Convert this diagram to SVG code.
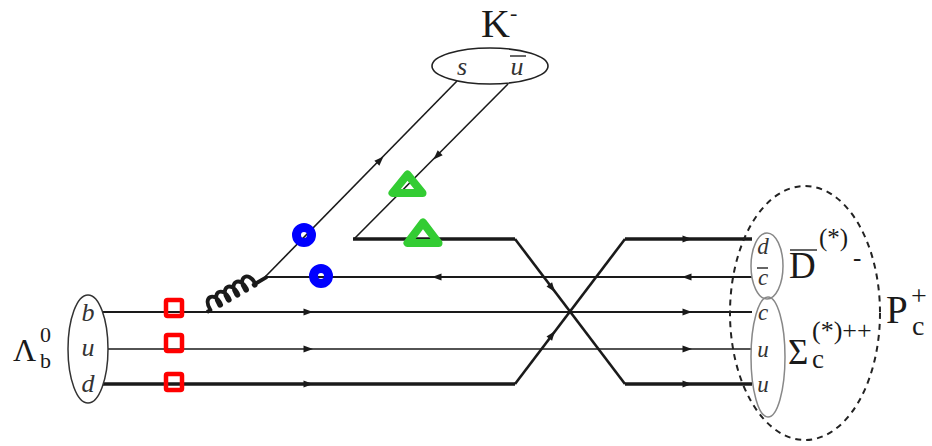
<svg xmlns="http://www.w3.org/2000/svg" xmlns:xlink="http://www.w3.org/1999/xlink" width="932" height="446" viewBox="0 0 932 446">
<style>
.q{font-family:"Liberation Serif",serif;font-style:italic;fill:#333;text-anchor:middle}
.lab{font-family:"Liberation Serif",serif;fill:#1a1a1a}
.ln{fill:none;stroke:#1a1a1a;stroke-linecap:butt}
.ah{fill:#1a1a1a}
.bar{stroke:#333;stroke-width:1.5}
.sq{fill:none;stroke:#ff0000;stroke-width:4.5}
.ci{fill:none;stroke:#0000ff;stroke-width:9}
.tr{fill:none;stroke:#33cc33;stroke-width:8;stroke-linejoin:round}
</style>
<defs>
<path id="ah" d="M-4.5,-3.5 L5,0 L-4.5,3.5 Z"/>
</defs>
<rect width="932" height="446" fill="#ffffff"/>

<g id="connectors">
  <path class="ln" d="M102,312 H752" stroke-width="2.2"/>
  <path class="ln" d="M108,349 H752" stroke-width="1.6"/>
  <path class="ln" d="M103,384 H515" stroke-width="3.5"/>
  <path class="ln" d="M515,384 L625,239" stroke-width="2.6" stroke-linecap="round"/>
  <path class="ln" d="M625,239 H752" stroke-width="3.5"/>
  <path class="ln" d="M353,239 H515" stroke-width="3.5"/>
  <path class="ln" d="M515,239 L625,384" stroke-width="2.6" stroke-linecap="round"/>
  <path class="ln" d="M625,384 H752" stroke-width="3.5"/>
  <path class="ln" d="M265,277 H752" stroke-width="2"/>
  <path class="ln" d="M265,277 L457,81" stroke-width="1.6"/>
  <path class="ln" d="M508,84 L354,239" stroke-width="1.6"/>
  <path id="gluon" class="ln" stroke-width="3.8" stroke-linecap="round" stroke-linejoin="round" transform="translate(207,312) rotate(-30.3)" d="M0,0 L4,0 c-1,-15 13,-15 12,0 c0,2 -2,2 -2,0 c-1,-15 13,-15 12,0 c0,2 -2,2 -2,0 c-1,-15 13,-15 12,0 c0,2 -2,2 -2,0 c-1,-15 13,-15 12,0 c0,2 -2,2 -2,0 c-1,-15 13,-15 12,0 c0,2 -2,2 -2,0 L69.5,0"/>
  <g id="arrowheads">
    <use xlink:href="#ah" class="ah" transform="translate(308,312)"/>
    <use xlink:href="#ah" class="ah" transform="translate(308,349)"/>
    <use xlink:href="#ah" class="ah" transform="translate(308,384)"/>
    <use xlink:href="#ah" class="ah" transform="translate(380,160) rotate(-45.6)"/>
    <use xlink:href="#ah" class="ah" transform="translate(437,156) rotate(135)"/>
    <use xlink:href="#ah" class="ah" transform="translate(437,277) rotate(180)"/>
    <use xlink:href="#ah" class="ah" transform="translate(687,277) rotate(180)"/>
    <use xlink:href="#ah" class="ah" transform="translate(687,239)"/>
    <use xlink:href="#ah" class="ah" transform="translate(687,312)"/>
    <use xlink:href="#ah" class="ah" transform="translate(687,349)"/>
    <use xlink:href="#ah" class="ah" transform="translate(687,384)"/>
    <use xlink:href="#ah" class="ah" transform="translate(552,288) rotate(52.8)"/>
    <use xlink:href="#ah" class="ah" transform="translate(552,335) rotate(-52.8)"/>
  </g>
</g>

<g id="lambda">
  <ellipse cx="88" cy="349" rx="20" ry="54" fill="none" stroke="#333" stroke-width="1.5"/>
  <text class="q" x="88" y="321" font-size="26">b</text>
  <text class="q" x="88" y="356" font-size="26">u</text>
  <text class="q" x="88" y="392" font-size="26">d</text>
  <text class="lab" x="13" y="361" font-size="32">Λ</text>
  <text class="lab" x="40" y="342" font-size="22">0</text>
  <text class="lab" x="40" y="368" font-size="22">b</text>
</g>

<g id="kaon">
  <ellipse cx="490" cy="66" rx="58" ry="18" fill="none" stroke="#222" stroke-width="1.6"/>
  <text class="q" x="462" y="75" font-size="26">s</text>
  <text class="q" x="517" y="75" font-size="26">u</text>
  <line class="bar" x1="510" y1="56" x2="526" y2="56"/>
  <text class="lab" x="481" y="37" font-size="40">K<tspan font-size="22" dy="-17">-</tspan></text>
</g>

<g id="dbar">
  <ellipse cx="767" cy="266" rx="16" ry="33" fill="none" stroke="#888" stroke-width="1.5"/>
  <text class="q" x="763" y="254" font-size="23">d</text>
  <text class="q" x="763" y="285" font-size="23">c</text>
  <line class="bar" x1="757" y1="268" x2="768" y2="268"/>
  <text class="lab" x="789" y="278" font-size="37">D</text>
  <line class="bar" x1="790" y1="250" x2="817" y2="250" stroke-width="1.8"/>
  <text class="lab" x="819" y="246" font-size="25">(*)</text>
  <text class="lab" x="853" y="266" font-size="25">-</text>
</g>

<g id="sigma">
  <ellipse cx="768" cy="357" rx="17" ry="60" fill="none" stroke="#888" stroke-width="1.5"/>
  <text class="q" x="763" y="320" font-size="23">c</text>
  <text class="q" x="763" y="357" font-size="23">u</text>
  <text class="q" x="763" y="392" font-size="23">u</text>
  <text class="lab" x="788" y="364" font-size="35">Σ</text>
  <text class="lab" x="812" y="339" font-size="26">(*)++</text>
  <text class="lab" x="812" y="368" font-size="27">c</text>
</g>

<g id="pc">
  <ellipse cx="805" cy="313" rx="75" ry="127" fill="none" stroke="#222" stroke-width="2" stroke-dasharray="6 5"/>
  <text class="lab" x="886" y="323" font-size="39">P</text>
  <text class="lab" x="911" y="305" font-size="28">+</text>
  <text class="lab" x="912" y="335" font-size="28">c</text>
</g>

<g id="markers">
  <rect class="sq" x="166" y="300" width="16" height="16" rx="1.5"/>
  <rect class="sq" x="166" y="335" width="16" height="16" rx="1.5"/>
  <rect class="sq" x="166" y="374" width="16" height="16" rx="1.5"/>
  <circle class="ci" cx="304" cy="235" r="7.5"/>
  <circle class="ci" cx="321" cy="276" r="7.5"/>
  <polygon class="tr" points="407.5,174.5 392.5,193 422.5,193"/>
  <polygon class="tr" points="423,222.5 407.5,243 438.5,243"/>
</g>
</svg>
